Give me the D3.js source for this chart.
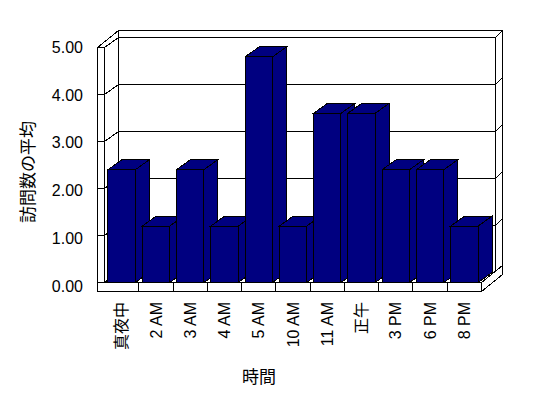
<!DOCTYPE html>
<html>
<head>
<meta charset="utf-8">
<script src="https://cdn.jsdelivr.net/npm/d3@7"></script>
<style>
body { margin: 0; background: #fff; }
text { font-family: "Liberation Sans", "Noto Sans CJK JP", sans-serif; fill: #000; }
.wall { fill: #fff; stroke: #000; stroke-width: 1; }
.bar { fill: #000080; stroke: #000; stroke-width: 1; }
.grid { stroke: #000; stroke-width: 1; fill: none; }
</style>
</head>
<body>
<svg></svg>
<script>
// data
var categories = ["真夜中", "2 AM", "3 AM", "4 AM", "5 AM", "10 AM", "11 AM", "正午", "3 PM", "6 PM", "8 PM"];
var values = [2.4, 1.2, 2.4, 1.2, 4.8, 1.2, 3.6, 3.6, 2.4, 2.4, 1.2];
var yTicks = [0, 1, 2, 3, 4, 5];
var yTickLabels = ["0.00", "1.00", "2.00", "3.00", "4.00", "5.00"];
var xTitle = "時間";
var yTitle = "訪問数の平均";

var width = 548;
var height = 398;

var svg = d3.select("svg")
    .attr("width", width)
    .attr("height", height)
    .attr("viewBox", "0 0 " + width + " " + height)
    .attr("shape-rendering", "crispEdges");

// front plane scales
var x = d3.scaleBand().domain(categories).range([104.5, 481.5]).paddingInner(0.2).paddingOuter(0.1);
var y = d3.scaleLinear().domain([0, 5]).range([282.5, 47.5]);
var yLab = d3.scaleLinear().domain([0, 5]).range([286.5, 47]);

// depth offsets: inner back wall, outer back wall
var dx = 14, dy = -10;
var ox = 21, oy = -17;
var wallT = 7;     // left wall thickness
var floorT = 9;    // floor thickness

var x0 = x.range()[0], x1 = x.range()[1];
var yTop = y(5), yBot = y(0);

function pts(a) { return a.map(function(p) { return p.join(","); }).join(" "); }

var frame = svg.append("g").attr("id", "frame");

// back wall
frame.append("polygon").attr("class", "wall")
    .attr("points", pts([[x0 + dx, yTop + dy], [x1 + dx, yTop + dy], [x1 + dx, yBot + dy], [x0 + dx, yBot + dy]]));
// back wall top
frame.append("polygon").attr("class", "wall")
    .attr("points", pts([[x0 - wallT + ox, yTop + oy], [x1 + ox, yTop + oy], [x1 + dx, yTop + dy], [x0 + dx, yTop + dy]]));
// back wall right side
frame.append("polygon").attr("class", "wall")
    .attr("points", pts([[x1 + dx, yTop + dy], [x1 + ox, yTop + oy], [x1 + ox, yBot + oy], [x1 + dx, yBot + dy]]));

// gridlines on back wall and on its right side
var inner = yTicks.filter(function(v) { return v > 0 && v < 5; });
frame.selectAll(".gback").data(inner).enter().append("line")
    .attr("class", "grid")
    .attr("x1", x0 + dx).attr("x2", x1 + dx)
    .attr("y1", function(d) { return y(d) + dy; })
    .attr("y2", function(d) { return y(d) + dy; });
frame.selectAll(".gside").data(inner).enter().append("line")
    .attr("class", "grid")
    .attr("x1", x1 + dx).attr("x2", x1 + ox)
    .attr("y1", function(d) { return y(d) + dy; })
    .attr("y2", function(d) { return y(d) + oy; });

// left wall inner face
frame.append("polygon").attr("class", "wall")
    .attr("points", pts([[x0, yTop], [x0 + dx, yTop + dy], [x0 + dx, yBot + dy], [x0, yBot]]));
frame.selectAll(".gleft").data(inner).enter().append("line")
    .attr("class", "grid")
    .attr("x1", x0).attr("x2", x0 + dx)
    .attr("y1", function(d) { return y(d); })
    .attr("y2", function(d) { return y(d) + dy; });
// left wall top
frame.append("polygon").attr("class", "wall")
    .attr("points", pts([[x0 - wallT, yTop], [x0, yTop], [x0 + dx, yTop + dy], [x0 - wallT + ox, yTop + oy]]));
// left wall front
frame.append("rect").attr("class", "wall")
    .attr("x", x0 - wallT).attr("y", yTop)
    .attr("width", wallT).attr("height", yBot - yTop);
frame.selectAll(".gfront").data(inner).enter().append("line")
    .attr("class", "grid")
    .attr("x1", x0 - wallT).attr("x2", x0)
    .attr("y1", function(d) { return y(d); })
    .attr("y2", function(d) { return y(d); });

// floor top
frame.append("polygon").attr("class", "wall")
    .attr("points", pts([[x0, yBot], [x1, yBot], [x1 + dx, yBot + dy], [x0 + dx, yBot + dy]]));
// floor right side
frame.append("polygon").attr("class", "wall")
    .attr("points", pts([[x1, yBot], [x1 + ox, yBot + oy], [x1 + ox, yBot + oy + floorT], [x1, yBot + floorT]]));
// floor front
frame.append("rect").attr("class", "wall")
    .attr("x", x0 - wallT).attr("y", yBot)
    .attr("width", x1 - x0 + wallT).attr("height", floorT);
frame.selectAll(".xtick").data(categories.slice(1)).enter().append("line")
    .attr("class", "grid")
    .attr("x1", function(d) { return x(d) - x.step() * x.paddingInner() / 2; })
    .attr("x2", function(d) { return x(d) - x.step() * x.paddingInner() / 2; })
    .attr("y1", yBot).attr("y2", yBot + floorT);

// bars
var bw = x.bandwidth();
var bars = svg.append("g").attr("id", "bars");
categories.forEach(function(c, i) {
    var bx = x(c), bt = y(values[i]);
    var g = bars.append("g");
    g.append("polygon").attr("class", "bar")
        .attr("points", pts([[bx + bw, bt], [bx + bw + dx, bt + dy], [bx + bw + dx, yBot + dy], [bx + bw, yBot]]));
    g.append("polygon").attr("class", "bar")
        .attr("points", pts([[bx, bt], [bx + dx, bt + dy], [bx + bw + dx, bt + dy], [bx + bw, bt]]));
    g.append("rect").attr("class", "bar")
        .attr("x", bx).attr("y", bt)
        .attr("width", bw).attr("height", yBot - bt);
});

// texts
var labels = svg.append("g").attr("id", "labels");
labels.selectAll(".ylab").data(yTicks).enter().append("text")
    .attr("x", 83)
    .attr("y", function(d) { return yLab(d); })
    .attr("dy", "0.35em")
    .attr("text-anchor", "end")
    .style("font-size", "16px")
    .text(function(d, i) { return yTickLabels[i]; });

labels.selectAll(".xlab").data(categories).enter().append("text")
    .attr("transform", function(d) { return "translate(" + (x(d) + bw / 2) + ",302) rotate(-90)"; })
    .attr("dy", "0.35em")
    .attr("text-anchor", "end")
    .style("font-size", "16px")
    .text(function(d) { return d; });

labels.append("text")
    .attr("x", 259).attr("y", 377)
    .attr("dy", "0.35em")
    .attr("text-anchor", "middle")
    .style("font-size", "17px")
    .text(xTitle);

labels.append("text")
    .attr("transform", "translate(28,172) rotate(-90)")
    .attr("dy", "0.35em")
    .attr("text-anchor", "middle")
    .style("font-size", "17px")
    .text(yTitle);
</script>
</body>
</html>
